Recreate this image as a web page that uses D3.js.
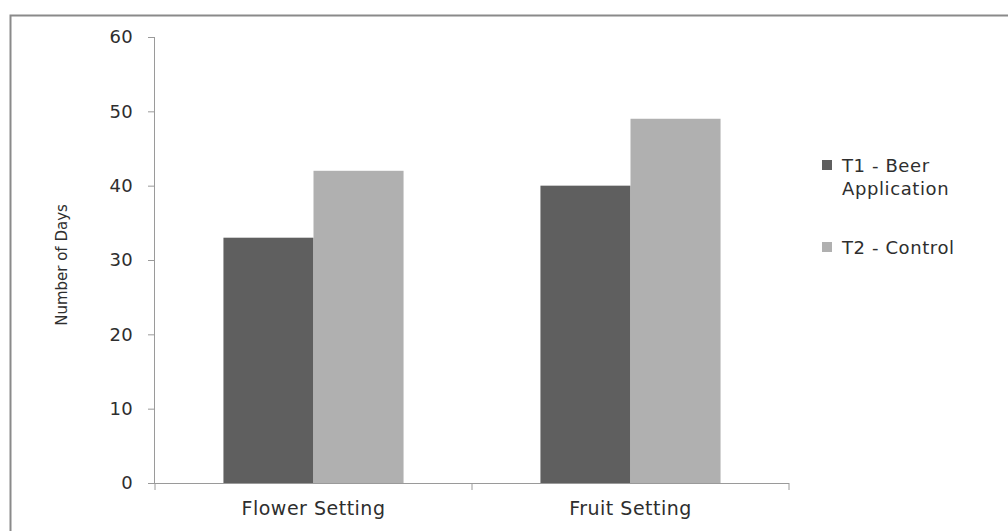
<!DOCTYPE html>
<html><head><meta charset="utf-8">
<script src="https://cdn.jsdelivr.net/npm/d3@7"></script>
<style>body{margin:0;background:#fff}svg{display:block}</style>
</head><body><svg id="c" width="1008" height="531"></svg>
<script>
const categories = ["Flower Setting", "Fruit Setting"];
const seriesNames = ["T1 - Beer Application", "T2 - Control"];
const t1Values = [33, 40];
const t2Values = [42, 49];
const yTicks = [0, 10, 20, 30, 40, 50, 60];
const colors = ["#5f5f5f", "#b0b0b0"];

const svg = d3.select("#c");
const font = "'DejaVu Sans', Verdana, sans-serif";
svg.append("rect").attr("x", 10.5).attr("y", 15.5).attr("width", 1100).attr("height", 600)
  .attr("fill", "#fff").attr("stroke", "#8a8a8a").attr("stroke-width", 2);

const x0 = 155, x1 = 789, yTop = 37, yBot = 483;
const x = d3.scaleBand().domain(categories).range([x0, x1]).paddingInner(0).paddingOuter(0);
const xs = d3.scaleBand().domain([0, 1]).range([0, x.bandwidth()]).paddingInner(0).paddingOuter(0.76);
const y = d3.scaleLinear().domain([0, 60]).range([yBot, yTop]);

const data = categories.map((c, i) => ({c, v: [t1Values[i], t2Values[i]]}));
const g = svg.append("g");
data.forEach(d => {
  d.v.forEach((v, s) => {
    g.append("rect").attr("x", x(d.c) + xs(s)).attr("y", y(v))
      .attr("width", xs.bandwidth()).attr("height", y(0) - y(v)).attr("fill", colors[s]);
  });
});

// y axis
const ya = svg.append("g").attr("transform", `translate(${x0},0)`)
  .call(d3.axisLeft(y).tickValues(yTicks).tickSize(7).tickPadding(15).tickFormat(d3.format("d")));
ya.select(".domain").attr("stroke", "#9a9a9a").attr("d", `M-0.5,${yTop}V${yBot}`);
ya.selectAll(".tick line").attr("stroke", "#9a9a9a");
ya.selectAll("text").attr("font-family", font).attr("font-size", 18).attr("letter-spacing", 0.3).attr("fill", "#2e2e2e");

// x axis
const xa = svg.append("g").attr("transform", `translate(0,${yBot})`)
  .call(d3.axisBottom(x).tickSize(0).tickPadding(19));
xa.select(".domain").attr("stroke", "#9a9a9a").attr("d", `M${x0},0.5H${x1}`);
xa.selectAll("text").attr("font-family", font).attr("font-size", 19).attr("letter-spacing", 0.5).attr("fill", "#2e2e2e");
[x0, x0 + x.bandwidth(), x1].forEach(px => {
  xa.append("line").attr("x1", px).attr("x2", px).attr("y1", 0).attr("y2", 7).attr("stroke", "#9a9a9a");
});

// y label
svg.append("text").attr("transform", "translate(67,265) rotate(-90)").attr("text-anchor", "middle")
  .attr("font-family", font).attr("font-size", 15).attr("fill", "#2e2e2e").text("Number of Days");

// legend
const leg = svg.append("g");
const legLines = [["T1 - Beer", "Application"], ["T2 - Control"]];
const legY = [172, 254];
legLines.forEach((lines, i) => {
  leg.append("rect").attr("x", 822).attr("y", legY[i] - 12).attr("width", 10).attr("height", 10).attr("fill", colors[i]);
  const t = leg.append("text").attr("x", 842).attr("y", legY[i]).attr("font-family", font)
    .attr("font-size", 18).attr("letter-spacing", 0.6).attr("fill", "#2e2e2e");
  lines.forEach((l, j) => t.append("tspan").attr("x", 842).attr("dy", j ? 23 : 0).text(l));
});
</script></body></html>
